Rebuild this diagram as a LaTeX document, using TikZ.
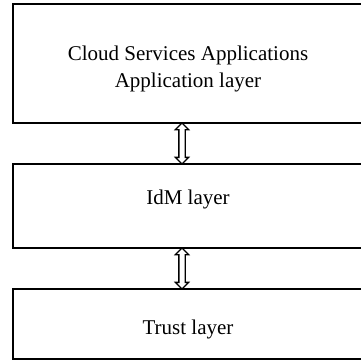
\documentclass[tikz,border=0pt]{standalone}
\usepackage{fontspec}
\setmainfont{Liberation Serif}
\usetikzlibrary{shapes.arrows,calc}

\begin{document}
\begin{tikzpicture}[x=1pt,y=-1pt,
  layer/.style={draw,line width=1.6pt,minimum width=350pt,inner sep=0pt,align=center,
    font=\fontsize{21}{27}\selectfont},
  link/.style={double arrow,draw,line width=1.3pt,fill=white,rotate=90,inner xsep=0pt,
    inner ysep=2.5pt,double arrow head extend=3.5pt,minimum height=41pt}]
\useasboundingbox (0,0) rectangle (361,361);
% the three layers
\node[layer,minimum height=119pt] (app) at (188,63.5) {};
\node[layer,minimum height=84pt] (idm) at (188,206) {};
\node[layer,minimum height=70pt] (trust) at (188,324) {};
\node[font=\fontsize{21}{27}\selectfont,align=center] (apptext) at ([yshift=-5pt]app.center) {Cloud Services Applications\\Application layer};
\node[font=\fontsize{21}{27}\selectfont] (idmtext) at ([yshift=7pt]idm.center) {IdM layer};
\node[font=\fontsize{21}{27}\selectfont] (trusttext) at ([yshift=-5pt]trust.center) {Trust layer};
% arrows between them
\node[link] (l1) at ($(app.south)!0.5!(idm.north)+(-6,0)$) {};
\node[link] (l2) at ($(idm.south)!0.5!(trust.north)+(-6,0)$) {};
\end{tikzpicture}
\end{document}
